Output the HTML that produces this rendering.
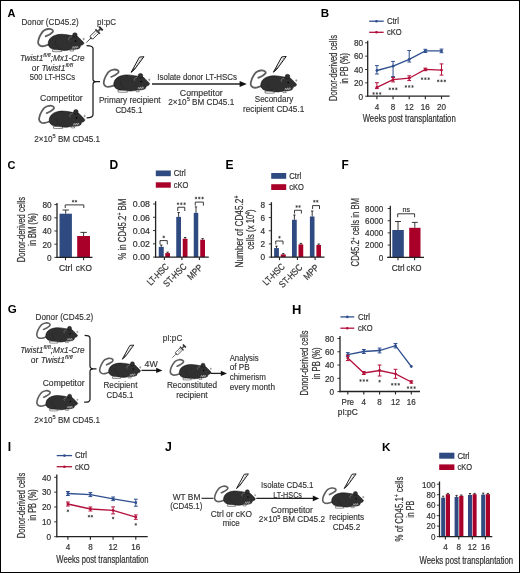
<!DOCTYPE html><html><head><meta charset="utf-8"><style>
html,body{margin:0;padding:0;background:#fff;}
svg{display:block;will-change:transform;}
.t{font-family:"Liberation Sans",sans-serif;fill:#333;stroke:#333;stroke-width:0.22px;}
.d{font-family:"Liberation Sans",sans-serif;fill:#333;stroke:#333;stroke-width:0.15px;}
.lbl{font-family:"Liberation Sans",sans-serif;font-weight:bold;fill:#000;}
</style></head><body>
<svg width="520" height="573" viewBox="0 0 520 573">
<defs>
<g id="mouse">
<path d="M9.70,6.70 C10.42,6.35 12.78,5.38 14.00,4.60 C15.22,3.82 16.70,2.78 17.00,2.00 C17.30,1.22 16.63,0.33 15.80,-0.10 C14.97,-0.53 13.37,-0.82 12.00,-0.60 C10.63,-0.38 8.83,0.23 7.60,1.20 C6.37,2.17 5.43,3.77 4.60,5.20 C3.77,6.63 3.00,8.40 2.60,9.80 C2.20,11.20 1.88,12.52 2.20,13.60 C2.52,14.68 3.53,15.82 4.50,16.30 C5.47,16.78 6.62,16.72 8.00,16.50 C9.38,16.28 12.00,15.25 12.80,15.00" fill="none" stroke="#5e5e5e" stroke-width="1.8" stroke-linecap="round"/>
<path d="M13.00,16.80 C12.30,15.73 12.08,14.17 12.30,12.80 C12.52,11.43 13.22,9.77 14.30,8.60 C15.38,7.43 17.02,6.45 18.80,5.80 C20.58,5.15 22.97,4.80 25.00,4.70 C27.03,4.60 29.25,4.98 31.00,5.20 C32.75,5.42 33.90,5.80 35.50,6.00 C37.10,6.20 39.18,5.87 40.60,6.40 C42.02,6.93 42.97,8.27 44.00,9.20 C45.03,10.13 46.15,11.27 46.80,12.00 C47.45,12.73 47.88,13.10 47.90,13.60 C47.92,14.10 47.45,14.57 46.90,15.00 C46.35,15.43 45.18,15.60 44.60,16.20 C44.02,16.80 44.25,18.03 43.40,18.60 C42.55,19.17 40.90,19.38 39.50,19.60 C38.10,19.82 36.67,19.70 35.00,19.90 C33.33,20.10 31.58,20.73 29.50,20.80 C27.42,20.87 24.67,20.57 22.50,20.30 C20.33,20.03 18.08,19.78 16.50,19.20 C14.92,18.62 13.70,17.87 13.00,16.80 Z" fill="#303030" stroke="#111" stroke-width="0.6"/>
<circle cx="38.9" cy="5.5" r="2.3" fill="#303030" stroke="#111" stroke-width="0.5"/>
<path d="M33.4,10.6 C32,9.6 32.3,7.6 35.5,7.2" fill="none" stroke="#8a8a8a" stroke-width="0.7"/>
<path d="M19.5,11 C19,14.5 20.5,17.5 24,19" fill="none" stroke="#222" stroke-width="0.45"/>
<circle cx="39.6" cy="11.4" r="0.85" fill="#000"/>
<path d="M16.3,20.1 C18,20.0 22,20.1 25.2,20.4 L25.8,21.9 C22,22.2 18.5,22.1 16.6,21.9 Z" fill="#fff" stroke="#222" stroke-width="0.55"/>
<path d="M34.2,20.0 L37.2,20.0 L37.6,21.5 L34.4,21.5 Z" fill="#fff" stroke="#222" stroke-width="0.5"/>
<path d="M36.2,19.2 L37.2,16.9 L38.2,19 L39.2,16.7 L40.2,18.8 L41.2,16.5 L42.1,18.4" fill="none" stroke="#eee" stroke-width="0.5"/>
<path d="M47.6,8.0 L48.9,9.5 L47.7,11.0 L46.5,9.5 Z" fill="#9a9a9a"/>
</g>
<g id="pen">
<path d="M0,0 L8.4,-15.3 L12.8,-15.7 L3.3,-2.8 Z" fill="#fff" stroke="#111" stroke-width="1.0" stroke-linejoin="round"/>
<path d="M0.2,-0.4 L3.1,-2.9 L4.8,-6.2 Z" fill="#111"/>
<path d="M10.2,-14.2 L5.4,-6.4" stroke="#555" stroke-width="0.7" stroke-dasharray="1.2,0.8"/>
</g>
<g id="syr"><g transform="rotate(-44)">
<line x1="0" y1="0" x2="5.6" y2="0" stroke="#222" stroke-width="0.7"/>
<rect x="5.6" y="-1" width="1.4" height="2" fill="#333"/>
<rect x="7" y="-2" width="8.4" height="4" fill="#fff" stroke="#222" stroke-width="0.8"/>
<line x1="9.5" y1="0" x2="14.5" y2="0" stroke="#666" stroke-width="0.6"/>
<rect x="15.2" y="-3.2" width="1.4" height="6.4" fill="#333"/>
<rect x="16.4" y="-1" width="3.2" height="2" fill="#555"/>
<rect x="19.4" y="-2.6" width="1.8" height="5.2" fill="#222"/>
</g></g>
</defs>
<rect x="0" y="0" width="520" height="573" fill="#fff"/>
<text class="lbl" x="7.60" y="16.90" font-size="10.98">A</text>
<text class="d" x="21.50" y="25.40" font-size="8.6" textLength="57.30" lengthAdjust="spacingAndGlyphs" >Donor (CD45.2)</text>
<use href="#mouse" transform="translate(36.00,29.60) scale(1.0)"/>
<use href="#syr" transform="translate(86.30,42.60) scale(1.0)"/>
<text class="d" x="97.00" y="25.00" font-size="8.6" textLength="19.00" lengthAdjust="spacingAndGlyphs" >pI:pC</text>
<text class="d" x="20.0" y="60.6" font-size="8.6" font-style="italic" textLength="64.6" lengthAdjust="spacingAndGlyphs">Twist1<tspan font-size="6" dy="-3.6">fl/fl</tspan><tspan dy="3.6">;Mx1-Cre</tspan></text>
<text class="d" x="31.7" y="70.8" font-size="8.6" textLength="41.3" lengthAdjust="spacingAndGlyphs">or <tspan font-style="italic">Twist1</tspan><tspan font-size="6" dy="-3.6" font-style="italic">fl/fl</tspan></text>
<text class="d" x="29.80" y="80.40" font-size="8.6" textLength="45.20" lengthAdjust="spacingAndGlyphs" >500 LT-HSCs</text>
<text class="d" x="40.00" y="100.50" font-size="8.6" textLength="42.70" lengthAdjust="spacingAndGlyphs" >Competitor</text>
<use href="#mouse" transform="translate(37.00,106.40) scale(1.0)"/>
<text class="d" x="34.2" y="141.5" font-size="8.6" textLength="65.8" lengthAdjust="spacingAndGlyphs">2×10<tspan font-size="6" dy="-3.6">5</tspan><tspan dy="3.6"> BM CD45.1</tspan></text>
<path d="M86.6,45.6 C89.5,45.6 93,45.6 93,48.6 V79 C93,81 94,81.7 96.5,81.7 M93,84.4 C93,82.4 94,81.7 96.5,81.7 M93,84.4 V114.8 C93,117.8 89.5,117.8 86.6,117.8 M96.5,81.7 H100" fill="none" stroke="#1a1a1a" stroke-width="1.25"/>
<use href="#mouse" transform="translate(101.60,70.20) scale(1.0)"/>
<use href="#pen" transform="translate(131.10,72.40) scale(1.0)"/>
<text class="d" x="98.90" y="102.80" font-size="8.6" textLength="61.60" lengthAdjust="spacingAndGlyphs" >Primary recipient</text>
<text class="d" x="115.40" y="112.80" font-size="8.6" textLength="26.90" lengthAdjust="spacingAndGlyphs" >CD45.1</text>
<line x1="152.00" y1="84.00" x2="241.00" y2="84.00" stroke="#222" stroke-width="1.3" />
<path d="M246.8,84 L239.6,80.9 L239.6,87.1 Z" fill="#111"/>
<text class="d" x="157.30" y="80.20" font-size="8.6" textLength="79.70" lengthAdjust="spacingAndGlyphs" >Isolate donor LT-HSCs</text>
<text class="d" x="179.80" y="95.60" font-size="8.6" textLength="42.90" lengthAdjust="spacingAndGlyphs" >Competitor</text>
<text class="d" x="168.3" y="104.8" font-size="8.6" textLength="65.9" lengthAdjust="spacingAndGlyphs">2×10<tspan font-size="6" dy="-3.6">5</tspan><tspan dy="3.6"> BM CD45.1</tspan></text>
<use href="#mouse" transform="translate(248.60,71.10) scale(1.0)"/>
<use href="#pen" transform="translate(273.40,72.20) scale(1.0)"/>
<text class="d" x="254.80" y="101.80" font-size="8.6" textLength="38.40" lengthAdjust="spacingAndGlyphs" >Secondary</text>
<text class="d" x="243.00" y="112.00" font-size="8.6" textLength="61.30" lengthAdjust="spacingAndGlyphs" >recipient CD45.1</text>
<text class="lbl" x="320.80" y="16.90" font-size="11.58">B</text>
<line x1="369.20" y1="21.20" x2="383.70" y2="21.20" stroke="#2f4f8f" stroke-width="1.3" />
<circle cx="376.45" cy="21.20" r="1.3" fill="#2f4f8f"/>
<text class="t" x="386.90" y="24.00" font-size="9.2" textLength="12.00" lengthAdjust="spacingAndGlyphs" >Ctrl</text>
<line x1="369.20" y1="32.30" x2="383.70" y2="32.30" stroke="#b3113c" stroke-width="1.3" />
<circle cx="376.45" cy="32.30" r="1.3" fill="#b3113c"/>
<text class="t" x="387.00" y="35.10" font-size="9.2" textLength="14.60" lengthAdjust="spacingAndGlyphs" >cKO</text>
<line x1="367.70" y1="40.80" x2="367.70" y2="96.80" stroke="#222" stroke-width="1.3" />
<line x1="365.10" y1="42.80" x2="367.70" y2="42.80" stroke="#222" stroke-width="0.9" />
<text class="t" x="363.20" y="46.10" font-size="9.6" textLength="9.16" lengthAdjust="spacingAndGlyphs" text-anchor="end" >80</text>
<line x1="365.10" y1="56.15" x2="367.70" y2="56.15" stroke="#222" stroke-width="0.9" />
<text class="t" x="363.20" y="59.45" font-size="9.6" textLength="9.16" lengthAdjust="spacingAndGlyphs" text-anchor="end" >60</text>
<line x1="365.10" y1="69.50" x2="367.70" y2="69.50" stroke="#222" stroke-width="0.9" />
<text class="t" x="363.20" y="72.80" font-size="9.6" textLength="9.16" lengthAdjust="spacingAndGlyphs" text-anchor="end" >40</text>
<line x1="365.10" y1="82.85" x2="367.70" y2="82.85" stroke="#222" stroke-width="0.9" />
<text class="t" x="363.20" y="86.15" font-size="9.6" textLength="9.16" lengthAdjust="spacingAndGlyphs" text-anchor="end" >20</text>
<line x1="365.10" y1="96.20" x2="367.70" y2="96.20" stroke="#222" stroke-width="0.9" />
<text class="t" x="363.20" y="99.50" font-size="9.6" textLength="4.58" lengthAdjust="spacingAndGlyphs" text-anchor="end" >0</text>
<line x1="367.10" y1="96.20" x2="449.60" y2="96.20" stroke="#222" stroke-width="1.3" />
<line x1="376.90" y1="96.20" x2="376.90" y2="99.20" stroke="#222" stroke-width="1.1" />
<line x1="393.05" y1="96.20" x2="393.05" y2="99.20" stroke="#222" stroke-width="1.1" />
<line x1="409.20" y1="96.20" x2="409.20" y2="99.20" stroke="#222" stroke-width="1.1" />
<line x1="425.35" y1="96.20" x2="425.35" y2="99.20" stroke="#222" stroke-width="1.1" />
<line x1="441.50" y1="96.20" x2="441.50" y2="99.20" stroke="#222" stroke-width="1.1" />
<text class="t" x="376.90" y="109.70" font-size="9.6" textLength="4.50" lengthAdjust="spacingAndGlyphs" text-anchor="middle" >4</text>
<text class="t" x="393.05" y="109.70" font-size="9.6" textLength="4.50" lengthAdjust="spacingAndGlyphs" text-anchor="middle" >8</text>
<text class="t" x="409.20" y="109.70" font-size="9.6" textLength="9.00" lengthAdjust="spacingAndGlyphs" text-anchor="middle" >12</text>
<text class="t" x="425.35" y="109.70" font-size="9.6" textLength="9.00" lengthAdjust="spacingAndGlyphs" text-anchor="middle" >16</text>
<text class="t" x="441.50" y="109.70" font-size="9.6" textLength="9.00" lengthAdjust="spacingAndGlyphs" text-anchor="middle" >20</text>
<text class="t" x="362.70" y="122.30" font-size="10.0" textLength="93.00" lengthAdjust="spacingAndGlyphs" >Weeks post transplantation</text>
<text class="t" x="0" y="0" font-size="10.2" text-anchor="middle" textLength="66.00" lengthAdjust="spacingAndGlyphs" transform="translate(336.80,68.00) rotate(-90)" >Donor-derived cells</text>
<text class="t" x="0" y="0" font-size="10.2" text-anchor="middle" textLength="30.80" lengthAdjust="spacingAndGlyphs" transform="translate(348.40,68.40) rotate(-90)" >in PB (%)</text>
<polyline points="376.90,70.50 393.05,66.20 409.20,59.40 425.35,50.90 441.50,50.90" fill="none" stroke="#2f4f8f" stroke-width="1.3"/>
<line x1="376.90" y1="65.60" x2="376.90" y2="74.00" stroke="#2f4f8f" stroke-width="1.0" />
<line x1="375.00" y1="65.60" x2="378.80" y2="65.60" stroke="#2f4f8f" stroke-width="1.0" />
<line x1="375.00" y1="74.00" x2="378.80" y2="74.00" stroke="#2f4f8f" stroke-width="1.0" />
<circle cx="376.90" cy="70.50" r="1.4" fill="#2f4f8f"/>
<line x1="393.05" y1="61.40" x2="393.05" y2="76.60" stroke="#2f4f8f" stroke-width="1.0" />
<line x1="391.15" y1="61.40" x2="394.95" y2="61.40" stroke="#2f4f8f" stroke-width="1.0" />
<line x1="391.15" y1="76.60" x2="394.95" y2="76.60" stroke="#2f4f8f" stroke-width="1.0" />
<circle cx="393.05" cy="66.20" r="1.4" fill="#2f4f8f"/>
<line x1="409.20" y1="50.50" x2="409.20" y2="62.00" stroke="#2f4f8f" stroke-width="1.0" />
<line x1="407.30" y1="50.50" x2="411.10" y2="50.50" stroke="#2f4f8f" stroke-width="1.0" />
<line x1="407.30" y1="62.00" x2="411.10" y2="62.00" stroke="#2f4f8f" stroke-width="1.0" />
<circle cx="409.20" cy="59.40" r="1.4" fill="#2f4f8f"/>
<line x1="425.35" y1="49.30" x2="425.35" y2="52.50" stroke="#2f4f8f" stroke-width="1.0" />
<line x1="423.45" y1="49.30" x2="427.25" y2="49.30" stroke="#2f4f8f" stroke-width="1.0" />
<line x1="423.45" y1="52.50" x2="427.25" y2="52.50" stroke="#2f4f8f" stroke-width="1.0" />
<circle cx="425.35" cy="50.90" r="1.4" fill="#2f4f8f"/>
<line x1="441.50" y1="49.10" x2="441.50" y2="52.70" stroke="#2f4f8f" stroke-width="1.0" />
<line x1="439.60" y1="49.10" x2="443.40" y2="49.10" stroke="#2f4f8f" stroke-width="1.0" />
<line x1="439.60" y1="52.70" x2="443.40" y2="52.70" stroke="#2f4f8f" stroke-width="1.0" />
<circle cx="441.50" cy="50.90" r="1.4" fill="#2f4f8f"/>
<polyline points="376.90,87.30 393.05,79.70 409.20,78.20 425.35,69.40 441.50,70.10" fill="none" stroke="#b3113c" stroke-width="1.3"/>
<line x1="376.90" y1="82.70" x2="376.90" y2="88.60" stroke="#b3113c" stroke-width="1.0" />
<line x1="375.00" y1="82.70" x2="378.80" y2="82.70" stroke="#b3113c" stroke-width="1.0" />
<line x1="375.00" y1="88.60" x2="378.80" y2="88.60" stroke="#b3113c" stroke-width="1.0" />
<circle cx="376.90" cy="87.30" r="1.4" fill="#b3113c"/>
<line x1="393.05" y1="77.50" x2="393.05" y2="81.90" stroke="#b3113c" stroke-width="1.0" />
<line x1="391.15" y1="77.50" x2="394.95" y2="77.50" stroke="#b3113c" stroke-width="1.0" />
<line x1="391.15" y1="81.90" x2="394.95" y2="81.90" stroke="#b3113c" stroke-width="1.0" />
<circle cx="393.05" cy="79.70" r="1.4" fill="#b3113c"/>
<line x1="409.20" y1="75.80" x2="409.20" y2="80.60" stroke="#b3113c" stroke-width="1.0" />
<line x1="407.30" y1="75.80" x2="411.10" y2="75.80" stroke="#b3113c" stroke-width="1.0" />
<line x1="407.30" y1="80.60" x2="411.10" y2="80.60" stroke="#b3113c" stroke-width="1.0" />
<circle cx="409.20" cy="78.20" r="1.4" fill="#b3113c"/>
<line x1="425.35" y1="68.10" x2="425.35" y2="70.70" stroke="#b3113c" stroke-width="1.0" />
<line x1="423.45" y1="68.10" x2="427.25" y2="68.10" stroke="#b3113c" stroke-width="1.0" />
<line x1="423.45" y1="70.70" x2="427.25" y2="70.70" stroke="#b3113c" stroke-width="1.0" />
<circle cx="425.35" cy="69.40" r="1.4" fill="#b3113c"/>
<line x1="441.50" y1="63.90" x2="441.50" y2="75.10" stroke="#b3113c" stroke-width="1.0" />
<line x1="439.60" y1="63.90" x2="443.40" y2="63.90" stroke="#b3113c" stroke-width="1.0" />
<line x1="439.60" y1="75.10" x2="443.40" y2="75.10" stroke="#b3113c" stroke-width="1.0" />
<circle cx="441.50" cy="70.10" r="1.4" fill="#b3113c"/>
<path d="M373.60,92.20V94.80M372.47,92.85L374.73,94.15M372.47,94.15L374.73,92.85M376.90,92.20V94.80M375.77,92.85L378.03,94.15M375.77,94.15L378.03,92.85M380.20,92.20V94.80M379.07,92.85L381.33,94.15M379.07,94.15L381.33,92.85" stroke="#333" stroke-width="0.7" fill="none"/>
<path d="M389.75,87.50V90.10M388.62,88.15L390.88,89.45M388.62,89.45L390.88,88.15M393.05,87.50V90.10M391.92,88.15L394.18,89.45M391.92,89.45L394.18,88.15M396.35,87.50V90.10M395.22,88.15L397.48,89.45M395.22,89.45L397.48,88.15" stroke="#333" stroke-width="0.7" fill="none"/>
<path d="M405.90,85.20V87.80M404.77,85.85L407.03,87.15M404.77,87.15L407.03,85.85M409.20,85.20V87.80M408.07,85.85L410.33,87.15M408.07,87.15L410.33,85.85M412.50,85.20V87.80M411.37,85.85L413.63,87.15M411.37,87.15L413.63,85.85" stroke="#333" stroke-width="0.7" fill="none"/>
<path d="M422.05,77.40V80.00M420.92,78.05L423.18,79.35M420.92,79.35L423.18,78.05M425.35,77.40V80.00M424.22,78.05L426.48,79.35M424.22,79.35L426.48,78.05M428.65,77.40V80.00M427.52,78.05L429.78,79.35M427.52,79.35L429.78,78.05" stroke="#333" stroke-width="0.7" fill="none"/>
<path d="M438.20,79.60V82.20M437.07,80.25L439.33,81.55M437.07,81.55L439.33,80.25M441.50,79.60V82.20M440.37,80.25L442.63,81.55M440.37,81.55L442.63,80.25M444.80,79.60V82.20M443.67,80.25L445.93,81.55M443.67,81.55L445.93,80.25" stroke="#333" stroke-width="0.7" fill="none"/>
<text class="lbl" x="7.60" y="168.80" font-size="10.98">C</text>
<line x1="57.00" y1="203.00" x2="57.00" y2="258.00" stroke="#222" stroke-width="1.3" />
<line x1="54.40" y1="204.60" x2="57.00" y2="204.60" stroke="#222" stroke-width="0.9" />
<text class="t" x="51.60" y="207.90" font-size="9.6" textLength="9.16" lengthAdjust="spacingAndGlyphs" text-anchor="end" >80</text>
<line x1="54.40" y1="217.80" x2="57.00" y2="217.80" stroke="#222" stroke-width="0.9" />
<text class="t" x="51.60" y="221.10" font-size="9.6" textLength="9.16" lengthAdjust="spacingAndGlyphs" text-anchor="end" >60</text>
<line x1="54.40" y1="231.00" x2="57.00" y2="231.00" stroke="#222" stroke-width="0.9" />
<text class="t" x="51.60" y="234.30" font-size="9.6" textLength="9.16" lengthAdjust="spacingAndGlyphs" text-anchor="end" >40</text>
<line x1="54.40" y1="244.20" x2="57.00" y2="244.20" stroke="#222" stroke-width="0.9" />
<text class="t" x="51.60" y="247.50" font-size="9.6" textLength="9.16" lengthAdjust="spacingAndGlyphs" text-anchor="end" >20</text>
<line x1="54.40" y1="257.40" x2="57.00" y2="257.40" stroke="#222" stroke-width="0.9" />
<text class="t" x="51.60" y="260.70" font-size="9.6" textLength="4.58" lengthAdjust="spacingAndGlyphs" text-anchor="end" >0</text>
<rect x="59.50" y="213.70" width="12.40" height="43.70" fill="#2e4a80" />
<rect x="77.20" y="236.00" width="12.80" height="21.40" fill="#a80028" />
<line x1="65.70" y1="210.00" x2="65.70" y2="213.70" stroke="#222" stroke-width="0.9" />
<line x1="62.50" y1="210.00" x2="68.90" y2="210.00" stroke="#222" stroke-width="0.9" />
<line x1="83.60" y1="232.40" x2="83.60" y2="236.00" stroke="#222" stroke-width="0.9" />
<line x1="80.40" y1="232.40" x2="86.80" y2="232.40" stroke="#222" stroke-width="0.9" />
<line x1="56.50" y1="257.30" x2="92.50" y2="257.30" stroke="#222" stroke-width="1.3" />
<line x1="65.50" y1="257.30" x2="65.50" y2="260.30" stroke="#222" stroke-width="1.1" />
<line x1="83.60" y1="257.30" x2="83.60" y2="260.30" stroke="#222" stroke-width="1.1" />
<path d="M65.20,208.00 V204.90 H83.80 V208.00" fill="none" stroke="#222" stroke-width="0.9"/>
<path d="M73.05,199.90V202.50M71.92,200.55L74.18,201.85M71.92,201.85L74.18,200.55M75.95,199.90V202.50M74.82,200.55L77.08,201.85M74.82,201.85L77.08,200.55" stroke="#333" stroke-width="0.7" fill="none"/>
<text class="t" x="59.00" y="271.10" font-size="9.2" textLength="13.30" lengthAdjust="spacingAndGlyphs" >Ctrl</text>
<text class="t" x="75.80" y="271.10" font-size="9.2" textLength="16.00" lengthAdjust="spacingAndGlyphs" >cKO</text>
<text class="t" x="0" y="0" font-size="10.2" text-anchor="middle" textLength="65.30" lengthAdjust="spacingAndGlyphs" transform="translate(25.00,229.60) rotate(-90)" >Donor-derived cells</text>
<text class="t" x="0" y="0" font-size="10.2" text-anchor="middle" textLength="33.00" lengthAdjust="spacingAndGlyphs" transform="translate(36.40,229.50) rotate(-90)" >in BM (%)</text>
<text class="lbl" x="109.60" y="169.00" font-size="12.03">D</text>
<rect x="155.80" y="170.50" width="15.00" height="5.70" fill="#2e4a80" />
<text class="t" x="173.80" y="176.15" font-size="9.2" textLength="12.00" lengthAdjust="spacingAndGlyphs" >Ctrl</text>
<rect x="155.80" y="182.30" width="15.00" height="5.40" fill="#a80028" />
<text class="t" x="173.80" y="187.80" font-size="9.2" textLength="14.60" lengthAdjust="spacingAndGlyphs" >cKO</text>
<line x1="155.60" y1="201.20" x2="155.60" y2="257.70" stroke="#222" stroke-width="1.3" />
<line x1="153.00" y1="204.00" x2="155.60" y2="204.00" stroke="#222" stroke-width="0.9" />
<text class="t" x="149.90" y="207.30" font-size="9.6" textLength="17.04" lengthAdjust="spacingAndGlyphs" text-anchor="end" >0.08</text>
<line x1="153.00" y1="217.28" x2="155.60" y2="217.28" stroke="#222" stroke-width="0.9" />
<text class="t" x="149.90" y="220.58" font-size="9.6" textLength="17.04" lengthAdjust="spacingAndGlyphs" text-anchor="end" >0.06</text>
<line x1="153.00" y1="230.55" x2="155.60" y2="230.55" stroke="#222" stroke-width="0.9" />
<text class="t" x="149.90" y="233.85" font-size="9.6" textLength="17.04" lengthAdjust="spacingAndGlyphs" text-anchor="end" >0.04</text>
<line x1="153.00" y1="243.83" x2="155.60" y2="243.83" stroke="#222" stroke-width="0.9" />
<text class="t" x="149.90" y="247.13" font-size="9.6" textLength="17.04" lengthAdjust="spacingAndGlyphs" text-anchor="end" >0.02</text>
<line x1="153.00" y1="257.10" x2="155.60" y2="257.10" stroke="#222" stroke-width="0.9" />
<text class="t" x="149.90" y="260.40" font-size="9.6" textLength="17.04" lengthAdjust="spacingAndGlyphs" text-anchor="end" >0.00</text>
<rect x="158.75" y="246.90" width="5.00" height="10.20" fill="#2e4a80" />
<line x1="161.25" y1="245.00" x2="161.25" y2="246.90" stroke="#222" stroke-width="0.9" />
<line x1="160.05" y1="245.00" x2="162.45" y2="245.00" stroke="#222" stroke-width="0.9" />
<rect x="165.25" y="253.10" width="4.75" height="4.00" fill="#a80028" />
<line x1="167.62" y1="252.20" x2="167.62" y2="253.10" stroke="#222" stroke-width="0.9" />
<line x1="166.43" y1="252.20" x2="168.82" y2="252.20" stroke="#222" stroke-width="0.9" />
<rect x="176.25" y="216.90" width="4.75" height="40.20" fill="#2e4a80" />
<line x1="178.62" y1="212.50" x2="178.62" y2="216.90" stroke="#222" stroke-width="0.9" />
<line x1="177.43" y1="212.50" x2="179.82" y2="212.50" stroke="#222" stroke-width="0.9" />
<rect x="182.75" y="238.75" width="4.75" height="18.35" fill="#a80028" />
<line x1="185.12" y1="237.50" x2="185.12" y2="238.75" stroke="#222" stroke-width="0.9" />
<line x1="183.93" y1="237.50" x2="186.32" y2="237.50" stroke="#222" stroke-width="0.9" />
<rect x="193.75" y="212.90" width="4.50" height="44.20" fill="#2e4a80" />
<line x1="196.00" y1="206.90" x2="196.00" y2="212.90" stroke="#222" stroke-width="0.9" />
<line x1="194.80" y1="206.90" x2="197.20" y2="206.90" stroke="#222" stroke-width="0.9" />
<rect x="200.25" y="239.75" width="4.75" height="17.35" fill="#a80028" />
<line x1="202.62" y1="238.60" x2="202.62" y2="239.75" stroke="#222" stroke-width="0.9" />
<line x1="201.43" y1="238.60" x2="203.82" y2="238.60" stroke="#222" stroke-width="0.9" />
<line x1="155.10" y1="257.10" x2="208.80" y2="257.10" stroke="#222" stroke-width="1.3" />
<line x1="164.40" y1="257.10" x2="164.40" y2="260.10" stroke="#222" stroke-width="1.1" />
<line x1="181.90" y1="257.10" x2="181.90" y2="260.10" stroke="#222" stroke-width="1.1" />
<line x1="199.40" y1="257.10" x2="199.40" y2="260.10" stroke="#222" stroke-width="1.1" />
<path d="M160.00,244.40 V240.60 H167.25 V244.40" fill="none" stroke="#222" stroke-width="0.9"/>
<path d="M163.75,235.60V238.20M162.62,236.25L164.88,237.55M162.62,237.55L164.88,236.25" stroke="#333" stroke-width="0.7" fill="none"/>
<path d="M177.75,211.00 V207.25 H184.75 V211.00" fill="none" stroke="#222" stroke-width="0.9"/>
<path d="M178.00,202.45V205.05M176.87,203.10L179.13,204.40M176.87,204.40L179.13,203.10M181.30,202.45V205.05M180.17,203.10L182.43,204.40M180.17,204.40L182.43,203.10M184.60,202.45V205.05M183.47,203.10L185.73,204.40M183.47,204.40L185.73,203.10" stroke="#333" stroke-width="0.7" fill="none"/>
<path d="M195.25,205.60 V202.10 H203.40 V205.60" fill="none" stroke="#222" stroke-width="0.9"/>
<path d="M196.00,196.70V199.30M194.87,197.35L197.13,198.65M194.87,198.65L197.13,197.35M199.30,196.70V199.30M198.17,197.35L200.43,198.65M198.17,198.65L200.43,197.35M202.60,196.70V199.30M201.47,197.35L203.73,198.65M201.47,198.65L203.73,197.35" stroke="#333" stroke-width="0.7" fill="none"/>
<text class="t" x="0" y="0" font-size="9.4" text-anchor="end" textLength="26.5" lengthAdjust="spacingAndGlyphs" transform="translate(169.50,267.30) rotate(-45)">LT-HSC</text>
<text class="t" x="0" y="0" font-size="9.4" text-anchor="end" textLength="28.5" lengthAdjust="spacingAndGlyphs" transform="translate(187.20,267.30) rotate(-45)">ST-HSC</text>
<text class="t" x="0" y="0" font-size="9.4" text-anchor="end" textLength="17.5" lengthAdjust="spacingAndGlyphs" transform="translate(203.30,268.10) rotate(-45)">MPP</text>
<text class="t" x="0" y="0" font-size="10.2" text-anchor="middle" textLength="61" lengthAdjust="spacingAndGlyphs" transform="translate(126.0,229.2) rotate(-90)">% in CD45.2<tspan font-size="6.4" dy="-3.8">+</tspan><tspan dy="3.8"> BM</tspan></text>
<text class="lbl" x="225.40" y="169.20" font-size="12.03">E</text>
<rect x="271.20" y="173.00" width="15.00" height="5.80" fill="#2e4a80" />
<text class="t" x="289.20" y="178.70" font-size="9.2" textLength="12.00" lengthAdjust="spacingAndGlyphs" >Ctrl</text>
<rect x="271.20" y="184.20" width="15.00" height="5.80" fill="#a80028" />
<text class="t" x="289.20" y="189.90" font-size="9.2" textLength="14.60" lengthAdjust="spacingAndGlyphs" >cKO</text>
<line x1="271.40" y1="202.20" x2="271.40" y2="257.70" stroke="#222" stroke-width="1.3" />
<line x1="268.80" y1="204.40" x2="271.40" y2="204.40" stroke="#222" stroke-width="0.9" />
<text class="t" x="265.20" y="207.70" font-size="9.6" textLength="4.58" lengthAdjust="spacingAndGlyphs" text-anchor="end" >8</text>
<line x1="268.80" y1="217.58" x2="271.40" y2="217.58" stroke="#222" stroke-width="0.9" />
<text class="t" x="265.20" y="220.88" font-size="9.6" textLength="4.58" lengthAdjust="spacingAndGlyphs" text-anchor="end" >6</text>
<line x1="268.80" y1="230.75" x2="271.40" y2="230.75" stroke="#222" stroke-width="0.9" />
<text class="t" x="265.20" y="234.05" font-size="9.6" textLength="4.58" lengthAdjust="spacingAndGlyphs" text-anchor="end" >4</text>
<line x1="268.80" y1="243.93" x2="271.40" y2="243.93" stroke="#222" stroke-width="0.9" />
<text class="t" x="265.20" y="247.23" font-size="9.6" textLength="4.58" lengthAdjust="spacingAndGlyphs" text-anchor="end" >2</text>
<line x1="268.80" y1="257.10" x2="271.40" y2="257.10" stroke="#222" stroke-width="0.9" />
<text class="t" x="265.20" y="260.40" font-size="9.6" textLength="4.58" lengthAdjust="spacingAndGlyphs" text-anchor="end" >0</text>
<rect x="274.10" y="248.10" width="4.80" height="9.00" fill="#2e4a80" />
<line x1="276.50" y1="246.20" x2="276.50" y2="248.10" stroke="#222" stroke-width="0.9" />
<line x1="275.30" y1="246.20" x2="277.70" y2="246.20" stroke="#222" stroke-width="0.9" />
<rect x="280.75" y="254.40" width="5.00" height="2.70" fill="#a80028" />
<line x1="283.25" y1="253.60" x2="283.25" y2="254.40" stroke="#222" stroke-width="0.9" />
<line x1="282.05" y1="253.60" x2="284.45" y2="253.60" stroke="#222" stroke-width="0.9" />
<rect x="292.00" y="219.75" width="4.75" height="37.35" fill="#2e4a80" />
<line x1="294.38" y1="215.00" x2="294.38" y2="219.75" stroke="#222" stroke-width="0.9" />
<line x1="293.18" y1="215.00" x2="295.57" y2="215.00" stroke="#222" stroke-width="0.9" />
<rect x="298.50" y="244.40" width="4.75" height="12.70" fill="#a80028" />
<line x1="300.88" y1="243.40" x2="300.88" y2="244.40" stroke="#222" stroke-width="0.9" />
<line x1="299.68" y1="243.40" x2="302.07" y2="243.40" stroke="#222" stroke-width="0.9" />
<rect x="309.90" y="216.50" width="4.60" height="40.60" fill="#2e4a80" />
<line x1="312.20" y1="211.00" x2="312.20" y2="216.50" stroke="#222" stroke-width="0.9" />
<line x1="311.00" y1="211.00" x2="313.40" y2="211.00" stroke="#222" stroke-width="0.9" />
<rect x="316.40" y="245.00" width="4.60" height="12.10" fill="#a80028" />
<line x1="318.70" y1="244.00" x2="318.70" y2="245.00" stroke="#222" stroke-width="0.9" />
<line x1="317.50" y1="244.00" x2="319.90" y2="244.00" stroke="#222" stroke-width="0.9" />
<line x1="270.90" y1="257.10" x2="324.50" y2="257.10" stroke="#222" stroke-width="1.3" />
<line x1="279.50" y1="257.10" x2="279.50" y2="260.10" stroke="#222" stroke-width="1.1" />
<line x1="297.40" y1="257.10" x2="297.40" y2="260.10" stroke="#222" stroke-width="1.1" />
<line x1="315.10" y1="257.10" x2="315.10" y2="260.10" stroke="#222" stroke-width="1.1" />
<path d="M275.75,244.40 V241.00 H283.00 V244.40" fill="none" stroke="#222" stroke-width="0.9"/>
<path d="M279.50,235.95V238.55M278.37,236.60L280.63,237.90M278.37,237.90L280.63,236.60" stroke="#333" stroke-width="0.7" fill="none"/>
<path d="M294.50,213.50 V210.25 H301.40 V213.50" fill="none" stroke="#222" stroke-width="0.9"/>
<path d="M296.65,205.20V207.80M295.52,205.85L297.78,207.15M295.52,207.15L297.78,205.85M299.55,205.20V207.80M298.42,205.85L300.68,207.15M298.42,207.15L300.68,205.85" stroke="#333" stroke-width="0.7" fill="none"/>
<path d="M312.60,209.00 V205.60 H319.50 V209.00" fill="none" stroke="#222" stroke-width="0.9"/>
<path d="M314.35,199.95V202.55M313.22,200.60L315.48,201.90M313.22,201.90L315.48,200.60M317.25,199.95V202.55M316.12,200.60L318.38,201.90M316.12,201.90L318.38,200.60" stroke="#333" stroke-width="0.7" fill="none"/>
<text class="t" x="0" y="0" font-size="9.4" text-anchor="end" textLength="26.5" lengthAdjust="spacingAndGlyphs" transform="translate(285.30,267.30) rotate(-45)">LT-HSC</text>
<text class="t" x="0" y="0" font-size="9.4" text-anchor="end" textLength="28.5" lengthAdjust="spacingAndGlyphs" transform="translate(303.00,268.10) rotate(-45)">ST-HSC</text>
<text class="t" x="0" y="0" font-size="9.4" text-anchor="end" textLength="17.5" lengthAdjust="spacingAndGlyphs" transform="translate(319.60,268.10) rotate(-45)">MPP</text>
<text class="t" x="0" y="0" font-size="10.2" text-anchor="middle" textLength="72" lengthAdjust="spacingAndGlyphs" transform="translate(242.6,231.5) rotate(-90)">Number of CD45.2<tspan font-size="6.4" dy="-3.8">+</tspan></text>
<text class="t" x="0" y="0" font-size="10.2" text-anchor="middle" textLength="40" lengthAdjust="spacingAndGlyphs" transform="translate(254.2,229.5) rotate(-90)">cells (x 10<tspan font-size="6.4" dy="-3.8">4</tspan><tspan dy="3.8">)</tspan></text>
<text class="lbl" x="341.40" y="168.90" font-size="11.88">F</text>
<line x1="390.30" y1="205.80" x2="390.30" y2="257.90" stroke="#222" stroke-width="1.3" />
<line x1="387.70" y1="208.50" x2="390.30" y2="208.50" stroke="#222" stroke-width="0.9" />
<text class="t" x="383.20" y="211.80" font-size="9.6" textLength="18.08" lengthAdjust="spacingAndGlyphs" text-anchor="end" >8000</text>
<line x1="387.70" y1="220.70" x2="390.30" y2="220.70" stroke="#222" stroke-width="0.9" />
<text class="t" x="383.20" y="224.00" font-size="9.6" textLength="18.08" lengthAdjust="spacingAndGlyphs" text-anchor="end" >6000</text>
<line x1="387.70" y1="232.90" x2="390.30" y2="232.90" stroke="#222" stroke-width="0.9" />
<text class="t" x="383.20" y="236.20" font-size="9.6" textLength="18.08" lengthAdjust="spacingAndGlyphs" text-anchor="end" >4000</text>
<line x1="387.70" y1="245.10" x2="390.30" y2="245.10" stroke="#222" stroke-width="0.9" />
<text class="t" x="383.20" y="248.40" font-size="9.6" textLength="18.08" lengthAdjust="spacingAndGlyphs" text-anchor="end" >2000</text>
<line x1="387.70" y1="257.30" x2="390.30" y2="257.30" stroke="#222" stroke-width="0.9" />
<text class="t" x="383.20" y="260.60" font-size="9.6" textLength="4.52" lengthAdjust="spacingAndGlyphs" text-anchor="end" >0</text>
<rect x="392.30" y="230.00" width="11.50" height="27.30" fill="#2e4a80" />
<rect x="409.20" y="227.80" width="11.30" height="29.50" fill="#a80028" />
<line x1="398.00" y1="221.50" x2="398.00" y2="230.00" stroke="#222" stroke-width="0.9" />
<line x1="395.00" y1="221.50" x2="401.00" y2="221.50" stroke="#222" stroke-width="0.9" />
<line x1="414.80" y1="222.40" x2="414.80" y2="227.80" stroke="#222" stroke-width="0.9" />
<line x1="411.80" y1="222.40" x2="417.80" y2="222.40" stroke="#222" stroke-width="0.9" />
<line x1="387.20" y1="257.30" x2="424.00" y2="257.30" stroke="#222" stroke-width="1.3" />
<line x1="398.00" y1="257.30" x2="398.00" y2="260.30" stroke="#222" stroke-width="1.1" />
<line x1="414.60" y1="257.30" x2="414.60" y2="260.30" stroke="#222" stroke-width="1.1" />
<path d="M397.70,217.30 V213.80 H414.60 V217.30" fill="none" stroke="#222" stroke-width="0.9"/>
<text class="t" x="406.20" y="212.00" font-size="8.0" textLength="7.40" lengthAdjust="spacingAndGlyphs" text-anchor="middle" >ns</text>
<text class="t" x="391.80" y="270.70" font-size="9.2" textLength="12.80" lengthAdjust="spacingAndGlyphs" >Ctrl</text>
<text class="t" x="406.60" y="270.70" font-size="9.2" textLength="14.90" lengthAdjust="spacingAndGlyphs" >cKO</text>
<text class="t" x="0" y="0" font-size="10.2" text-anchor="middle" textLength="68.5" lengthAdjust="spacingAndGlyphs" transform="translate(359.4,232.2) rotate(-90)">CD45.2<tspan font-size="6.4" dy="-3.8">+</tspan><tspan dy="3.8"> cells in BM</tspan></text>
<text class="lbl" x="7.70" y="313.30" font-size="11.58">G</text>
<text class="d" x="35.60" y="320.00" font-size="8.6" textLength="57.70" lengthAdjust="spacingAndGlyphs" >Donor (CD45.2)</text>
<use href="#mouse" transform="translate(34.90,323.50) scale(0.89)"/>
<text class="d" x="20.2" y="352.7" font-size="8.6" font-style="italic" textLength="64.4" lengthAdjust="spacingAndGlyphs">Twist1<tspan font-size="6" dy="-3.6">fl/fl</tspan><tspan dy="3.6">;Mx1-Cre</tspan></text>
<text class="d" x="30.8" y="362.7" font-size="8.6" textLength="41.9" lengthAdjust="spacingAndGlyphs">or <tspan font-style="italic">Twist1</tspan><tspan font-size="6" dy="-3.6" font-style="italic">fl/fl</tspan></text>
<text class="d" x="42.70" y="386.20" font-size="8.6" textLength="41.90" lengthAdjust="spacingAndGlyphs" >Competitor</text>
<use href="#mouse" transform="translate(35.00,391.30) scale(0.89)"/>
<text class="d" x="34.2" y="423.0" font-size="8.6" textLength="65.8" lengthAdjust="spacingAndGlyphs">2×10<tspan font-size="6" dy="-3.6">5</tspan><tspan dy="3.6"> BM CD45.1</tspan></text>
<path d="M84.6,335.4 C87.5,335.4 90,335.4 90,338.4 V366.3 C90,368.1 91,368.8 93.5,368.8 M90,371.3 C90,369.5 91,368.8 93.5,368.8 M90,371.3 V399.2 C90,402.2 87.5,402.2 84.2,402.2 M93.5,368.8 H96.5" fill="none" stroke="#1a1a1a" stroke-width="1.25"/>
<use href="#mouse" transform="translate(97.80,358.90) scale(0.89)"/>
<use href="#pen" transform="translate(122.30,359.20) scale(0.9)"/>
<line x1="141.50" y1="370.40" x2="157.00" y2="370.40" stroke="#222" stroke-width="1.3" />
<path d="M162.4,370.4 L156.2,367.7 L156.2,373.1 Z" fill="#111"/>
<text class="d" x="144.60" y="367.40" font-size="8.6" textLength="13.10" lengthAdjust="spacingAndGlyphs" >4W</text>
<text class="d" x="103.50" y="388.20" font-size="8.6" textLength="33.90" lengthAdjust="spacingAndGlyphs" >Recipient</text>
<text class="d" x="106.60" y="397.70" font-size="8.6" textLength="26.80" lengthAdjust="spacingAndGlyphs" >CD45.1</text>
<text class="d" x="162.80" y="340.80" font-size="8.6" textLength="19.50" lengthAdjust="spacingAndGlyphs" >pI:pC</text>
<use href="#syr" transform="translate(172.30,357.70) scale(0.83)"/>
<use href="#mouse" transform="translate(168.40,360.30) scale(0.89)"/>
<line x1="210.50" y1="373.40" x2="221.50" y2="373.40" stroke="#222" stroke-width="1.3" />
<path d="M227,373.4 L220.8,370.7 L220.8,376.1 Z" fill="#111"/>
<text class="d" x="166.90" y="388.20" font-size="8.6" textLength="50.30" lengthAdjust="spacingAndGlyphs" >Reconstituted</text>
<text class="d" x="176.20" y="397.70" font-size="8.6" textLength="31.50" lengthAdjust="spacingAndGlyphs" >recipient</text>
<text class="d" x="229.70" y="360.50" font-size="8.6" textLength="28.90" lengthAdjust="spacingAndGlyphs" >Analysis</text>
<text class="d" x="229.70" y="370.30" font-size="8.6" textLength="20.00" lengthAdjust="spacingAndGlyphs" >of PB</text>
<text class="d" x="229.70" y="380.30" font-size="8.6" textLength="36.30" lengthAdjust="spacingAndGlyphs" >chimerism</text>
<text class="d" x="229.70" y="389.70" font-size="8.6" textLength="45.30" lengthAdjust="spacingAndGlyphs" >every month</text>
<text class="lbl" x="292.00" y="313.60" font-size="12.93">H</text>
<line x1="340.40" y1="316.90" x2="354.20" y2="316.90" stroke="#2f4f8f" stroke-width="1.3" />
<circle cx="347.30" cy="316.90" r="1.3" fill="#2f4f8f"/>
<text class="t" x="358.00" y="319.70" font-size="9.2" textLength="12.00" lengthAdjust="spacingAndGlyphs" >Ctrl</text>
<line x1="340.40" y1="328.20" x2="354.20" y2="328.20" stroke="#b3113c" stroke-width="1.3" />
<circle cx="347.30" cy="328.20" r="1.3" fill="#b3113c"/>
<text class="t" x="358.00" y="331.00" font-size="9.2" textLength="14.60" lengthAdjust="spacingAndGlyphs" >cKO</text>
<line x1="340.00" y1="336.00" x2="340.00" y2="392.20" stroke="#222" stroke-width="1.3" />
<line x1="337.40" y1="338.50" x2="340.00" y2="338.50" stroke="#222" stroke-width="0.9" />
<text class="t" x="334.20" y="341.80" font-size="9.6" textLength="9.16" lengthAdjust="spacingAndGlyphs" text-anchor="end" >80</text>
<line x1="337.40" y1="351.77" x2="340.00" y2="351.77" stroke="#222" stroke-width="0.9" />
<text class="t" x="334.20" y="355.07" font-size="9.6" textLength="9.16" lengthAdjust="spacingAndGlyphs" text-anchor="end" >60</text>
<line x1="337.40" y1="365.05" x2="340.00" y2="365.05" stroke="#222" stroke-width="0.9" />
<text class="t" x="334.20" y="368.35" font-size="9.6" textLength="9.16" lengthAdjust="spacingAndGlyphs" text-anchor="end" >40</text>
<line x1="337.40" y1="378.33" x2="340.00" y2="378.33" stroke="#222" stroke-width="0.9" />
<text class="t" x="334.20" y="381.63" font-size="9.6" textLength="9.16" lengthAdjust="spacingAndGlyphs" text-anchor="end" >20</text>
<line x1="337.40" y1="391.60" x2="340.00" y2="391.60" stroke="#222" stroke-width="0.9" />
<text class="t" x="334.20" y="394.90" font-size="9.6" textLength="4.58" lengthAdjust="spacingAndGlyphs" text-anchor="end" >0</text>
<line x1="339.50" y1="391.50" x2="420.00" y2="391.50" stroke="#222" stroke-width="1.3" />
<line x1="347.80" y1="391.50" x2="347.80" y2="394.50" stroke="#222" stroke-width="1.1" />
<line x1="363.80" y1="391.50" x2="363.80" y2="394.50" stroke="#222" stroke-width="1.1" />
<line x1="379.60" y1="391.50" x2="379.60" y2="394.50" stroke="#222" stroke-width="1.1" />
<line x1="395.50" y1="391.50" x2="395.50" y2="394.50" stroke="#222" stroke-width="1.1" />
<line x1="411.30" y1="391.50" x2="411.30" y2="394.50" stroke="#222" stroke-width="1.1" />
<polyline points="347.80,354.60 363.80,351.50 379.60,350.50 395.50,345.70 411.30,366.50" fill="none" stroke="#2f4f8f" stroke-width="1.3"/>
<line x1="347.80" y1="352.60" x2="347.80" y2="356.60" stroke="#2f4f8f" stroke-width="1.0" />
<line x1="345.90" y1="352.60" x2="349.70" y2="352.60" stroke="#2f4f8f" stroke-width="1.0" />
<line x1="345.90" y1="356.60" x2="349.70" y2="356.60" stroke="#2f4f8f" stroke-width="1.0" />
<circle cx="347.80" cy="354.60" r="1.4" fill="#2f4f8f"/>
<line x1="363.80" y1="349.50" x2="363.80" y2="353.50" stroke="#2f4f8f" stroke-width="1.0" />
<line x1="361.90" y1="349.50" x2="365.70" y2="349.50" stroke="#2f4f8f" stroke-width="1.0" />
<line x1="361.90" y1="353.50" x2="365.70" y2="353.50" stroke="#2f4f8f" stroke-width="1.0" />
<circle cx="363.80" cy="351.50" r="1.4" fill="#2f4f8f"/>
<line x1="379.60" y1="348.10" x2="379.60" y2="352.90" stroke="#2f4f8f" stroke-width="1.0" />
<line x1="377.70" y1="348.10" x2="381.50" y2="348.10" stroke="#2f4f8f" stroke-width="1.0" />
<line x1="377.70" y1="352.90" x2="381.50" y2="352.90" stroke="#2f4f8f" stroke-width="1.0" />
<circle cx="379.60" cy="350.50" r="1.4" fill="#2f4f8f"/>
<line x1="395.50" y1="343.50" x2="395.50" y2="347.90" stroke="#2f4f8f" stroke-width="1.0" />
<line x1="393.60" y1="343.50" x2="397.40" y2="343.50" stroke="#2f4f8f" stroke-width="1.0" />
<line x1="393.60" y1="347.90" x2="397.40" y2="347.90" stroke="#2f4f8f" stroke-width="1.0" />
<circle cx="395.50" cy="345.70" r="1.4" fill="#2f4f8f"/>
<circle cx="411.30" cy="366.50" r="1.4" fill="#2f4f8f"/>
<polyline points="347.80,358.00 363.80,373.00 379.60,370.50 395.50,373.80 411.30,382.00" fill="none" stroke="#b3113c" stroke-width="1.3"/>
<line x1="347.80" y1="355.40" x2="347.80" y2="360.60" stroke="#b3113c" stroke-width="1.0" />
<line x1="345.90" y1="355.40" x2="349.70" y2="355.40" stroke="#b3113c" stroke-width="1.0" />
<line x1="345.90" y1="360.60" x2="349.70" y2="360.60" stroke="#b3113c" stroke-width="1.0" />
<circle cx="347.80" cy="358.00" r="1.4" fill="#b3113c"/>
<line x1="363.80" y1="371.50" x2="363.80" y2="374.50" stroke="#b3113c" stroke-width="1.0" />
<line x1="361.90" y1="371.50" x2="365.70" y2="371.50" stroke="#b3113c" stroke-width="1.0" />
<line x1="361.90" y1="374.50" x2="365.70" y2="374.50" stroke="#b3113c" stroke-width="1.0" />
<circle cx="363.80" cy="373.00" r="1.4" fill="#b3113c"/>
<line x1="379.60" y1="365.00" x2="379.60" y2="376.00" stroke="#b3113c" stroke-width="1.0" />
<line x1="377.70" y1="365.00" x2="381.50" y2="365.00" stroke="#b3113c" stroke-width="1.0" />
<line x1="377.70" y1="376.00" x2="381.50" y2="376.00" stroke="#b3113c" stroke-width="1.0" />
<circle cx="379.60" cy="370.50" r="1.4" fill="#b3113c"/>
<line x1="395.50" y1="369.30" x2="395.50" y2="378.30" stroke="#b3113c" stroke-width="1.0" />
<line x1="393.60" y1="369.30" x2="397.40" y2="369.30" stroke="#b3113c" stroke-width="1.0" />
<line x1="393.60" y1="378.30" x2="397.40" y2="378.30" stroke="#b3113c" stroke-width="1.0" />
<circle cx="395.50" cy="373.80" r="1.4" fill="#b3113c"/>
<line x1="411.30" y1="380.80" x2="411.30" y2="383.20" stroke="#b3113c" stroke-width="1.0" />
<line x1="409.40" y1="380.80" x2="413.20" y2="380.80" stroke="#b3113c" stroke-width="1.0" />
<line x1="409.40" y1="383.20" x2="413.20" y2="383.20" stroke="#b3113c" stroke-width="1.0" />
<circle cx="411.30" cy="382.00" r="1.4" fill="#b3113c"/>
<path d="M360.50,379.20V381.80M359.37,379.85L361.63,381.15M359.37,381.15L361.63,379.85M363.80,379.20V381.80M362.67,379.85L364.93,381.15M362.67,381.15L364.93,379.85M367.10,379.20V381.80M365.97,379.85L368.23,381.15M365.97,381.15L368.23,379.85" stroke="#333" stroke-width="0.7" fill="none"/>
<path d="M379.60,379.90V382.50M378.47,380.55L380.73,381.85M378.47,381.85L380.73,380.55" stroke="#333" stroke-width="0.7" fill="none"/>
<path d="M392.20,383.00V385.60M391.07,383.65L393.33,384.95M391.07,384.95L393.33,383.65M395.50,383.00V385.60M394.37,383.65L396.63,384.95M394.37,384.95L396.63,383.65M398.80,383.00V385.60M397.67,383.65L399.93,384.95M397.67,384.95L399.93,383.65" stroke="#333" stroke-width="0.7" fill="none"/>
<path d="M408.00,386.30V388.90M406.87,386.95L409.13,388.25M406.87,388.25L409.13,386.95M411.30,386.30V388.90M410.17,386.95L412.43,388.25M410.17,388.25L412.43,386.95M414.60,386.30V388.90M413.47,386.95L415.73,388.25M413.47,388.25L415.73,386.95" stroke="#333" stroke-width="0.7" fill="none"/>
<text class="t" x="347.80" y="404.80" font-size="9.6" textLength="12.40" lengthAdjust="spacingAndGlyphs" text-anchor="middle" >Pre</text>
<text class="t" x="363.80" y="404.80" font-size="9.6" textLength="4.50" lengthAdjust="spacingAndGlyphs" text-anchor="middle" >4</text>
<text class="t" x="379.60" y="404.80" font-size="9.6" textLength="4.50" lengthAdjust="spacingAndGlyphs" text-anchor="middle" >8</text>
<text class="t" x="395.50" y="404.80" font-size="9.6" textLength="9.00" lengthAdjust="spacingAndGlyphs" text-anchor="middle" >12</text>
<text class="t" x="411.30" y="404.80" font-size="9.6" textLength="9.00" lengthAdjust="spacingAndGlyphs" text-anchor="middle" >16</text>
<text class="t" x="337.80" y="414.70" font-size="9.4" textLength="19.90" lengthAdjust="spacingAndGlyphs" >pI:pC</text>
<text class="t" x="0" y="0" font-size="10.2" text-anchor="middle" textLength="65.00" lengthAdjust="spacingAndGlyphs" transform="translate(307.80,363.00) rotate(-90)" >Donor-derived cells</text>
<text class="t" x="0" y="0" font-size="10.2" text-anchor="middle" textLength="32.00" lengthAdjust="spacingAndGlyphs" transform="translate(319.80,363.40) rotate(-90)" >in PB (%)</text>
<text class="lbl" x="7.70" y="450.80" font-size="12.18">I</text>
<line x1="56.70" y1="455.60" x2="72.10" y2="455.60" stroke="#2f4f8f" stroke-width="1.3" />
<circle cx="64.40" cy="455.60" r="1.3" fill="#2f4f8f"/>
<text class="t" x="75.00" y="458.40" font-size="9.2" textLength="12.00" lengthAdjust="spacingAndGlyphs" >Ctrl</text>
<line x1="56.70" y1="466.70" x2="72.10" y2="466.70" stroke="#b3113c" stroke-width="1.3" />
<circle cx="64.40" cy="466.70" r="1.3" fill="#b3113c"/>
<text class="t" x="75.00" y="469.50" font-size="9.2" textLength="14.60" lengthAdjust="spacingAndGlyphs" >cKO</text>
<line x1="56.80" y1="474.50" x2="56.80" y2="537.30" stroke="#222" stroke-width="1.3" />
<line x1="54.20" y1="477.30" x2="56.80" y2="477.30" stroke="#222" stroke-width="0.9" />
<text class="t" x="51.20" y="480.60" font-size="9.6" textLength="9.16" lengthAdjust="spacingAndGlyphs" text-anchor="end" >40</text>
<line x1="54.20" y1="492.15" x2="56.80" y2="492.15" stroke="#222" stroke-width="0.9" />
<text class="t" x="51.20" y="495.45" font-size="9.6" textLength="9.16" lengthAdjust="spacingAndGlyphs" text-anchor="end" >30</text>
<line x1="54.20" y1="507.00" x2="56.80" y2="507.00" stroke="#222" stroke-width="0.9" />
<text class="t" x="51.20" y="510.30" font-size="9.6" textLength="9.16" lengthAdjust="spacingAndGlyphs" text-anchor="end" >20</text>
<line x1="54.20" y1="521.85" x2="56.80" y2="521.85" stroke="#222" stroke-width="0.9" />
<text class="t" x="51.20" y="525.15" font-size="9.6" textLength="9.16" lengthAdjust="spacingAndGlyphs" text-anchor="end" >10</text>
<line x1="54.20" y1="536.70" x2="56.80" y2="536.70" stroke="#222" stroke-width="0.9" />
<text class="t" x="51.20" y="540.00" font-size="9.6" textLength="4.58" lengthAdjust="spacingAndGlyphs" text-anchor="end" >0</text>
<line x1="56.30" y1="536.70" x2="147.70" y2="536.70" stroke="#222" stroke-width="1.3" />
<line x1="67.90" y1="536.70" x2="67.90" y2="539.70" stroke="#222" stroke-width="1.1" />
<line x1="90.40" y1="536.70" x2="90.40" y2="539.70" stroke="#222" stroke-width="1.1" />
<line x1="113.10" y1="536.70" x2="113.10" y2="539.70" stroke="#222" stroke-width="1.1" />
<line x1="135.80" y1="536.70" x2="135.80" y2="539.70" stroke="#222" stroke-width="1.1" />
<polyline points="67.90,493.50 90.40,494.60 113.10,498.80 135.80,502.70" fill="none" stroke="#2f4f8f" stroke-width="1.3"/>
<line x1="67.90" y1="491.50" x2="67.90" y2="495.50" stroke="#2f4f8f" stroke-width="1.0" />
<line x1="66.00" y1="491.50" x2="69.80" y2="491.50" stroke="#2f4f8f" stroke-width="1.0" />
<line x1="66.00" y1="495.50" x2="69.80" y2="495.50" stroke="#2f4f8f" stroke-width="1.0" />
<circle cx="67.90" cy="493.50" r="1.4" fill="#2f4f8f"/>
<line x1="90.40" y1="492.60" x2="90.40" y2="496.60" stroke="#2f4f8f" stroke-width="1.0" />
<line x1="88.50" y1="492.60" x2="92.30" y2="492.60" stroke="#2f4f8f" stroke-width="1.0" />
<line x1="88.50" y1="496.60" x2="92.30" y2="496.60" stroke="#2f4f8f" stroke-width="1.0" />
<circle cx="90.40" cy="494.60" r="1.4" fill="#2f4f8f"/>
<line x1="113.10" y1="497.00" x2="113.10" y2="500.60" stroke="#2f4f8f" stroke-width="1.0" />
<line x1="111.20" y1="497.00" x2="115.00" y2="497.00" stroke="#2f4f8f" stroke-width="1.0" />
<line x1="111.20" y1="500.60" x2="115.00" y2="500.60" stroke="#2f4f8f" stroke-width="1.0" />
<circle cx="113.10" cy="498.80" r="1.4" fill="#2f4f8f"/>
<line x1="135.80" y1="499.20" x2="135.80" y2="506.20" stroke="#2f4f8f" stroke-width="1.0" />
<line x1="133.90" y1="499.20" x2="137.70" y2="499.20" stroke="#2f4f8f" stroke-width="1.0" />
<line x1="133.90" y1="506.20" x2="137.70" y2="506.20" stroke="#2f4f8f" stroke-width="1.0" />
<circle cx="135.80" cy="502.70" r="1.4" fill="#2f4f8f"/>
<polyline points="67.90,504.00 90.40,509.00 113.10,510.40 135.80,517.10" fill="none" stroke="#b3113c" stroke-width="1.3"/>
<line x1="67.90" y1="502.00" x2="67.90" y2="506.00" stroke="#b3113c" stroke-width="1.0" />
<line x1="66.00" y1="502.00" x2="69.80" y2="502.00" stroke="#b3113c" stroke-width="1.0" />
<line x1="66.00" y1="506.00" x2="69.80" y2="506.00" stroke="#b3113c" stroke-width="1.0" />
<circle cx="67.90" cy="504.00" r="1.4" fill="#b3113c"/>
<line x1="90.40" y1="507.00" x2="90.40" y2="511.00" stroke="#b3113c" stroke-width="1.0" />
<line x1="88.50" y1="507.00" x2="92.30" y2="507.00" stroke="#b3113c" stroke-width="1.0" />
<line x1="88.50" y1="511.00" x2="92.30" y2="511.00" stroke="#b3113c" stroke-width="1.0" />
<circle cx="90.40" cy="509.00" r="1.4" fill="#b3113c"/>
<line x1="113.10" y1="506.90" x2="113.10" y2="513.90" stroke="#b3113c" stroke-width="1.0" />
<line x1="111.20" y1="506.90" x2="115.00" y2="506.90" stroke="#b3113c" stroke-width="1.0" />
<line x1="111.20" y1="513.90" x2="115.00" y2="513.90" stroke="#b3113c" stroke-width="1.0" />
<circle cx="113.10" cy="510.40" r="1.4" fill="#b3113c"/>
<line x1="135.80" y1="514.90" x2="135.80" y2="519.30" stroke="#b3113c" stroke-width="1.0" />
<line x1="133.90" y1="514.90" x2="137.70" y2="514.90" stroke="#b3113c" stroke-width="1.0" />
<line x1="133.90" y1="519.30" x2="137.70" y2="519.30" stroke="#b3113c" stroke-width="1.0" />
<circle cx="135.80" cy="517.10" r="1.4" fill="#b3113c"/>
<path d="M67.90,509.50V512.10M66.77,510.15L69.03,511.45M66.77,511.45L69.03,510.15" stroke="#333" stroke-width="0.7" fill="none"/>
<path d="M88.95,514.90V517.50M87.82,515.55L90.08,516.85M87.82,516.85L90.08,515.55M91.85,514.90V517.50M90.72,515.55L92.98,516.85M90.72,516.85L92.98,515.55" stroke="#333" stroke-width="0.7" fill="none"/>
<path d="M113.10,516.70V519.30M111.97,517.35L114.23,518.65M111.97,518.65L114.23,517.35" stroke="#333" stroke-width="0.7" fill="none"/>
<path d="M135.80,523.10V525.70M134.67,523.75L136.93,525.05M134.67,525.05L136.93,523.75" stroke="#333" stroke-width="0.7" fill="none"/>
<text class="t" x="67.90" y="549.70" font-size="9.6" textLength="4.50" lengthAdjust="spacingAndGlyphs" text-anchor="middle" >4</text>
<text class="t" x="90.40" y="549.70" font-size="9.6" textLength="4.50" lengthAdjust="spacingAndGlyphs" text-anchor="middle" >8</text>
<text class="t" x="113.10" y="549.70" font-size="9.6" textLength="9.00" lengthAdjust="spacingAndGlyphs" text-anchor="middle" >12</text>
<text class="t" x="135.80" y="549.70" font-size="9.6" textLength="9.00" lengthAdjust="spacingAndGlyphs" text-anchor="middle" >16</text>
<text class="t" x="56.30" y="563.30" font-size="10.0" textLength="92.20" lengthAdjust="spacingAndGlyphs" >Weeks post transplantation</text>
<text class="t" x="0" y="0" font-size="10.2" text-anchor="middle" textLength="65.60" lengthAdjust="spacingAndGlyphs" transform="translate(24.80,505.50) rotate(-90)" >Donor-derived cells</text>
<text class="t" x="0" y="0" font-size="10.2" text-anchor="middle" textLength="31.50" lengthAdjust="spacingAndGlyphs" transform="translate(36.20,505.00) rotate(-90)" >in PB (%)</text>
<text class="lbl" x="165.00" y="451.20" font-size="12.33">J</text>
<text class="d" x="172.70" y="499.60" font-size="8.6" textLength="27.70" lengthAdjust="spacingAndGlyphs" >WT BM</text>
<text class="d" x="170.20" y="509.20" font-size="8.6" textLength="32.10" lengthAdjust="spacingAndGlyphs" >(CD45.1)</text>
<line x1="201.50" y1="498.30" x2="213.50" y2="498.30" stroke="#222" stroke-width="1.1" />
<use href="#mouse" transform="translate(212.70,486.80) scale(0.89)"/>
<use href="#pen" transform="translate(236.50,488.50) scale(0.93)"/>
<line x1="256.30" y1="498.40" x2="313.50" y2="498.40" stroke="#222" stroke-width="1.3" />
<path d="M319.2,498.4 L312.8,495.6 L312.8,501.2 Z" fill="#111"/>
<text class="d" x="210.80" y="516.60" font-size="8.6" textLength="41.10" lengthAdjust="spacingAndGlyphs" >Ctrl or cKO</text>
<text class="d" x="222.70" y="525.80" font-size="8.6" textLength="16.90" lengthAdjust="spacingAndGlyphs" >mice</text>
<text class="d" x="261.00" y="487.70" font-size="8.6" textLength="52.50" lengthAdjust="spacingAndGlyphs" >Isolate CD45.1</text>
<text class="d" x="273.20" y="497.80" font-size="8.6" textLength="28.80" lengthAdjust="spacingAndGlyphs" >LT-HSCs</text>
<text class="d" x="270.90" y="512.90" font-size="8.6" textLength="42.10" lengthAdjust="spacingAndGlyphs" >Competitor</text>
<text class="d" x="258.8" y="522.1" font-size="8.6" textLength="66.2" lengthAdjust="spacingAndGlyphs">2×10<tspan font-size="6" dy="-3.6">5</tspan><tspan dy="3.6"> BM CD45.2</tspan></text>
<use href="#mouse" transform="translate(320.80,488.60) scale(0.89)"/>
<use href="#pen" transform="translate(344.20,488.50) scale(0.93)"/>
<text class="d" x="329.20" y="520.20" font-size="8.6" textLength="35.00" lengthAdjust="spacingAndGlyphs" >recipients</text>
<text class="d" x="332.70" y="529.60" font-size="8.6" textLength="27.70" lengthAdjust="spacingAndGlyphs" >CD45.2</text>
<text class="lbl" x="382.00" y="451.00" font-size="11.73">K</text>
<rect x="439.20" y="452.70" width="15.20" height="6.00" fill="#2e4a80" />
<text class="t" x="457.50" y="458.50" font-size="9.2" textLength="12.00" lengthAdjust="spacingAndGlyphs" >Ctrl</text>
<rect x="439.20" y="464.40" width="15.20" height="5.60" fill="#a80028" />
<text class="t" x="457.50" y="470.00" font-size="9.2" textLength="14.60" lengthAdjust="spacingAndGlyphs" >cKO</text>
<line x1="439.50" y1="481.50" x2="439.50" y2="537.20" stroke="#222" stroke-width="1.3" />
<line x1="436.90" y1="484.20" x2="439.50" y2="484.20" stroke="#222" stroke-width="0.9" />
<text class="t" x="435.40" y="487.50" font-size="9.6" textLength="13.41" lengthAdjust="spacingAndGlyphs" text-anchor="end" >100</text>
<line x1="436.90" y1="494.68" x2="439.50" y2="494.68" stroke="#222" stroke-width="0.9" />
<text class="t" x="435.40" y="497.98" font-size="9.6" textLength="8.94" lengthAdjust="spacingAndGlyphs" text-anchor="end" >80</text>
<line x1="436.90" y1="505.16" x2="439.50" y2="505.16" stroke="#222" stroke-width="0.9" />
<text class="t" x="435.40" y="508.46" font-size="9.6" textLength="8.94" lengthAdjust="spacingAndGlyphs" text-anchor="end" >60</text>
<line x1="436.90" y1="515.64" x2="439.50" y2="515.64" stroke="#222" stroke-width="0.9" />
<text class="t" x="435.40" y="518.94" font-size="9.6" textLength="8.94" lengthAdjust="spacingAndGlyphs" text-anchor="end" >40</text>
<line x1="436.90" y1="526.12" x2="439.50" y2="526.12" stroke="#222" stroke-width="0.9" />
<text class="t" x="435.40" y="529.42" font-size="9.6" textLength="8.94" lengthAdjust="spacingAndGlyphs" text-anchor="end" >20</text>
<line x1="436.90" y1="536.60" x2="439.50" y2="536.60" stroke="#222" stroke-width="0.9" />
<text class="t" x="435.40" y="539.90" font-size="9.6" textLength="4.47" lengthAdjust="spacingAndGlyphs" text-anchor="end" >0</text>
<rect x="441.20" y="497.70" width="3.90" height="38.90" fill="#2e4a80" />
<line x1="443.15" y1="496.20" x2="443.15" y2="497.70" stroke="#222" stroke-width="0.9" />
<line x1="442.05" y1="496.20" x2="444.25" y2="496.20" stroke="#222" stroke-width="0.9" />
<rect x="445.80" y="494.20" width="4.20" height="42.40" fill="#a80028" />
<line x1="447.90" y1="493.40" x2="447.90" y2="494.20" stroke="#222" stroke-width="0.9" />
<line x1="446.80" y1="493.40" x2="449.00" y2="493.40" stroke="#222" stroke-width="0.9" />
<rect x="454.60" y="496.90" width="3.90" height="39.70" fill="#2e4a80" />
<line x1="456.55" y1="495.40" x2="456.55" y2="496.90" stroke="#222" stroke-width="0.9" />
<line x1="455.45" y1="495.40" x2="457.65" y2="495.40" stroke="#222" stroke-width="0.9" />
<rect x="459.20" y="495.80" width="4.20" height="40.80" fill="#a80028" />
<line x1="461.30" y1="495.00" x2="461.30" y2="495.80" stroke="#222" stroke-width="0.9" />
<line x1="460.20" y1="495.00" x2="462.40" y2="495.00" stroke="#222" stroke-width="0.9" />
<rect x="468.00" y="495.00" width="4.00" height="41.60" fill="#2e4a80" />
<line x1="470.00" y1="493.50" x2="470.00" y2="495.00" stroke="#222" stroke-width="0.9" />
<line x1="468.90" y1="493.50" x2="471.10" y2="493.50" stroke="#222" stroke-width="0.9" />
<rect x="472.60" y="494.20" width="4.00" height="42.40" fill="#a80028" />
<line x1="474.60" y1="493.40" x2="474.60" y2="494.20" stroke="#222" stroke-width="0.9" />
<line x1="473.50" y1="493.40" x2="475.70" y2="493.40" stroke="#222" stroke-width="0.9" />
<rect x="481.20" y="494.60" width="4.00" height="42.00" fill="#2e4a80" />
<line x1="483.20" y1="493.10" x2="483.20" y2="494.60" stroke="#222" stroke-width="0.9" />
<line x1="482.10" y1="493.10" x2="484.30" y2="493.10" stroke="#222" stroke-width="0.9" />
<rect x="485.80" y="494.20" width="4.20" height="42.40" fill="#a80028" />
<line x1="487.90" y1="493.40" x2="487.90" y2="494.20" stroke="#222" stroke-width="0.9" />
<line x1="486.80" y1="493.40" x2="489.00" y2="493.40" stroke="#222" stroke-width="0.9" />
<line x1="439.00" y1="536.60" x2="492.30" y2="536.60" stroke="#222" stroke-width="1.3" />
<line x1="445.40" y1="536.60" x2="445.40" y2="539.60" stroke="#222" stroke-width="1.1" />
<line x1="458.80" y1="536.60" x2="458.80" y2="539.60" stroke="#222" stroke-width="1.1" />
<line x1="472.30" y1="536.60" x2="472.30" y2="539.60" stroke="#222" stroke-width="1.1" />
<line x1="485.40" y1="536.60" x2="485.40" y2="539.60" stroke="#222" stroke-width="1.1" />
<text class="t" x="445.40" y="549.90" font-size="9.6" textLength="4.50" lengthAdjust="spacingAndGlyphs" text-anchor="middle" >4</text>
<text class="t" x="458.80" y="549.90" font-size="9.6" textLength="4.50" lengthAdjust="spacingAndGlyphs" text-anchor="middle" >8</text>
<text class="t" x="472.30" y="549.90" font-size="9.6" textLength="9.00" lengthAdjust="spacingAndGlyphs" text-anchor="middle" >12</text>
<text class="t" x="485.40" y="549.90" font-size="9.6" textLength="9.00" lengthAdjust="spacingAndGlyphs" text-anchor="middle" >16</text>
<text class="t" x="419.60" y="563.90" font-size="10.0" textLength="93.60" lengthAdjust="spacingAndGlyphs" >Weeks post transplantation</text>
<text class="t" x="0" y="0" font-size="10.2" text-anchor="middle" textLength="64.8" lengthAdjust="spacingAndGlyphs" transform="translate(402.6,509.0) rotate(-90)">% of CD45.1<tspan font-size="6.4" dy="-3.8">+</tspan><tspan dy="3.8"> cells</tspan></text>
<text class="t" x="0" y="0" font-size="10.2" text-anchor="middle" textLength="17.00" lengthAdjust="spacingAndGlyphs" transform="translate(414.40,509.30) rotate(-90)" >in PB</text>
<rect x="0.5" y="0.5" width="519" height="572" fill="none" stroke="#000" stroke-width="1"/>
</svg></body></html>
